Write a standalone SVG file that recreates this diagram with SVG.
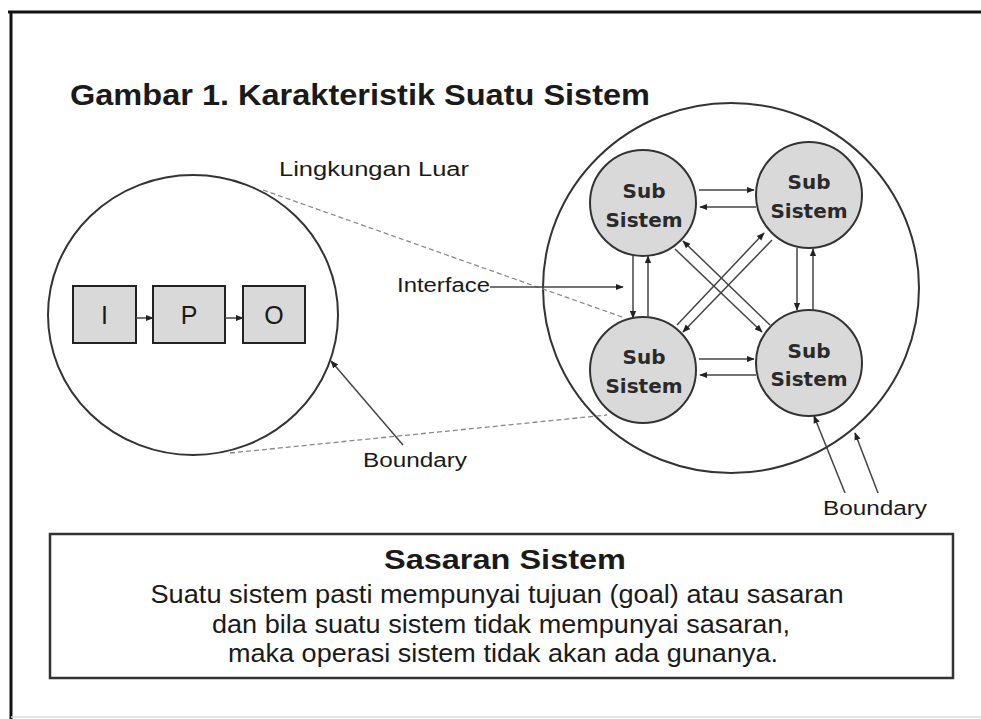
<svg xmlns="http://www.w3.org/2000/svg" width="981" height="719" viewBox="0 0 981 719">
<style>
.t{font-family:"Liberation Sans",Arial,sans-serif;fill:#1a1a1a}
.b{font-weight:bold}
.sub{font-family:"DejaVu Sans",Verdana,sans-serif;font-weight:bold;font-size:20px;fill:#2a2a2a;text-anchor:middle}
.ss{fill:#d9d9d9;stroke:#333;stroke-width:2}
.box{fill:#d9d9d9;stroke:#222;stroke-width:2}
.ln{stroke:#444;stroke-width:1.5;fill:none}
.dash{stroke:#888;stroke-width:1.3;stroke-dasharray:5 3;fill:none}
.ring{fill:none;stroke:#333;stroke-width:2}
</style>
<defs>
<marker id="ah" viewBox="0 0 10 10" refX="9" refY="5" markerWidth="8" markerHeight="8" markerUnits="userSpaceOnUse" orient="auto">
<path d="M0,1 L10,5 L0,9 z" fill="#222"/>
</marker>
</defs>
<rect width="981" height="719" fill="#fff"/>
<!-- frame -->
<line x1="8" y1="12" x2="981" y2="12" stroke="#111" stroke-width="3"/>
<line x1="11" y1="11" x2="11" y2="719" stroke="#111" stroke-width="3"/>
<line x1="11" y1="717" x2="981" y2="717" stroke="#ddd" stroke-width="1.5"/>

<text class="t b" x="70" y="105" font-size="30" textLength="580" lengthAdjust="spacingAndGlyphs">Gambar 1. Karakteristik Suatu Sistem</text>

<g id="lingkungan"><text class="t" x="279" y="176" font-size="20" textLength="190" lengthAdjust="spacingAndGlyphs">Lingkungan Luar</text></g>

<g id="system-left">
<ellipse class="ring" cx="193" cy="315" rx="145" ry="140"/>
</g>
<g id="node-I"><rect class="box" x="73" y="286" width="63" height="57"/><text class="t" x="104.5" y="324" font-size="25" text-anchor="middle">I</text></g>
<g id="node-P"><rect class="box" x="153" y="286" width="72" height="57"/><text class="t" x="189" y="324" font-size="25" text-anchor="middle">P</text></g>
<g id="node-O"><rect class="box" x="243" y="286" width="62" height="57"/><text class="t" x="274" y="324" font-size="25" text-anchor="middle">O</text></g>

<g id="system-right">
<ellipse class="ring" cx="731" cy="288" rx="188" ry="185"/>
</g>
<g id="sub-tl"><circle class="ss" cx="643" cy="203" r="53"/><text class="sub" x="644" y="198">Sub</text><text class="sub" x="644" y="227">Sistem</text></g>
<g id="sub-tr"><circle class="ss" cx="809" cy="195" r="53"/><text class="sub" x="809" y="189">Sub</text><text class="sub" x="809" y="218">Sistem</text></g>
<g id="sub-bl"><circle class="ss" cx="643" cy="370" r="53"/><text class="sub" x="644" y="364">Sub</text><text class="sub" x="644" y="393">Sistem</text></g>
<g id="sub-br"><circle class="ss" cx="809" cy="363" r="53"/><text class="sub" x="809" y="358">Sub</text><text class="sub" x="809" y="386">Sistem</text></g>

<g id="labels">
<text class="t" x="397" y="292" font-size="20" textLength="93" lengthAdjust="spacingAndGlyphs">Interface</text>
<text class="t" x="363" y="467" font-size="20" textLength="104" lengthAdjust="spacingAndGlyphs">Boundary</text>
<text class="t" x="823" y="515" font-size="20" textLength="104" lengthAdjust="spacingAndGlyphs">Boundary</text>
</g>

<g id="connectors">
<line class="ln" x1="136" y1="318" x2="153" y2="318" marker-end="url(#ah)"/>
<line class="ln" x1="225" y1="318" x2="243" y2="318" marker-end="url(#ah)"/>
<line class="dash" x1="263" y1="190" x2="625" y2="318"/>
<line class="dash" x1="230" y1="453" x2="607" y2="415"/>
<line class="ln" x1="490" y1="287" x2="623" y2="287" marker-end="url(#ah)"/>
<line class="ln" x1="403" y1="445" x2="331" y2="361" marker-end="url(#ah)"/>
<line class="ln" x1="845" y1="493" x2="814" y2="416" marker-end="url(#ah)"/>
<line class="ln" x1="878" y1="493" x2="855" y2="433" marker-end="url(#ah)"/>
<!-- horizontal -->
<line class="ln" x1="699" y1="190" x2="754" y2="190" marker-end="url(#ah)"/>
<line class="ln" x1="756" y1="207" x2="700" y2="207" marker-end="url(#ah)"/>
<line class="ln" x1="699" y1="359" x2="754" y2="359" marker-end="url(#ah)"/>
<line class="ln" x1="756" y1="375" x2="700" y2="375" marker-end="url(#ah)"/>
<!-- vertical -->
<line class="ln" x1="633" y1="255" x2="633" y2="318" marker-end="url(#ah)"/>
<line class="ln" x1="648" y1="318" x2="648" y2="256" marker-end="url(#ah)"/>
<line class="ln" x1="797" y1="248" x2="797" y2="310" marker-end="url(#ah)"/>
<line class="ln" x1="813" y1="311" x2="813" y2="249" marker-end="url(#ah)"/>
<!-- diagonals -->
<line class="ln" x1="770" y1="325" x2="683" y2="241" marker-end="url(#ah)"/>
<line class="ln" x1="675" y1="249" x2="762" y2="332" marker-end="url(#ah)"/>
<line class="ln" x1="677" y1="325" x2="764" y2="233" marker-end="url(#ah)"/>
<line class="ln" x1="772" y1="240" x2="683" y2="332" marker-end="url(#ah)"/>
</g>

<g id="sasaran">
<rect x="50" y="534" width="903" height="144" fill="#fff" stroke="#333" stroke-width="2.5"/>
<text class="t b" x="505" y="569" font-size="28" text-anchor="middle" textLength="242" lengthAdjust="spacingAndGlyphs">Sasaran Sistem</text>
<text class="t" x="497" y="603" font-size="25" text-anchor="middle" textLength="693" lengthAdjust="spacingAndGlyphs">Suatu sistem pasti mempunyai tujuan (goal) atau sasaran</text>
<text class="t" x="501" y="633" font-size="25" text-anchor="middle" textLength="578" lengthAdjust="spacingAndGlyphs">dan bila suatu sistem tidak mempunyai sasaran,</text>
<text class="t" x="503" y="662" font-size="25" text-anchor="middle" textLength="550" lengthAdjust="spacingAndGlyphs">maka operasi sistem tidak akan ada gunanya.</text>
</g>
</svg>
